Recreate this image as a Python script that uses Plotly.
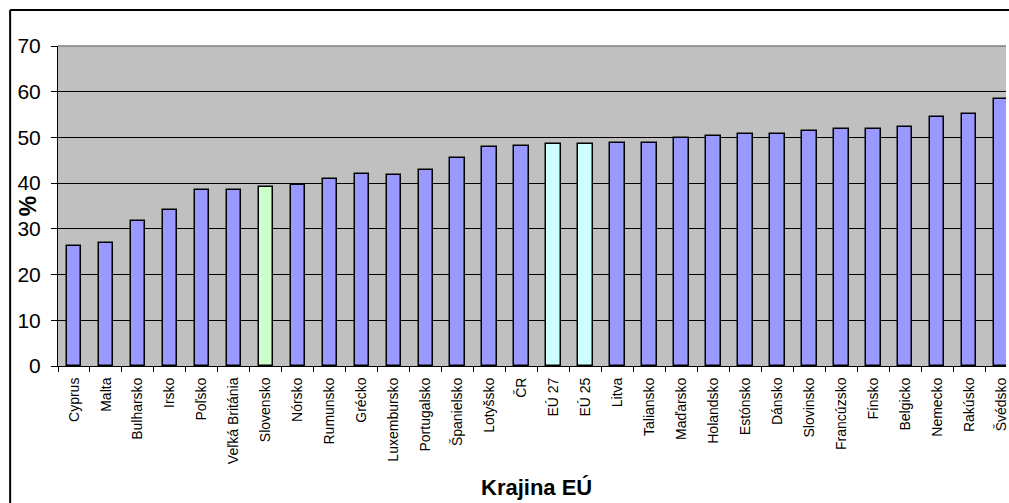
import plotly.graph_objects as go

categories = ["Cyprus", "Malta", "Bulharsko", "Irsko", "Poľsko", "Veľká Británia",
              "Slovensko", "Nórsko", "Rumunsko", "Grécko", "Luxembursko", "Portugalsko",
              "Španielsko", "Lotyšsko", "ČR", "EÚ 27", "EÚ 25", "Litva", "Taliansko",
              "Maďarsko", "Holandsko", "Estónsko", "Dánsko", "Slovinsko", "Francúzsko",
              "Fínsko", "Belgicko", "Nemecko", "Rakúsko", "Švédsko"]
values = [26.2, 27.0, 31.7, 34.1, 38.4, 38.4,
          39.2, 39.7, 41.0, 41.9, 41.8, 42.8,
          45.4, 47.8, 48.2, 48.6, 48.6, 48.8, 48.8,
          49.9, 50.3, 50.7, 50.7, 51.5, 51.8,
          51.8, 52.2, 54.4, 55.1, 58.4]
home_country = ["Slovensko"]
eu_aggregates = ["EÚ 27", "EÚ 25"]
y_ticks = [0, 10, 20, 30, 40, 50, 60, 70]

BASE = "#9999FF"
HOME = "#CCFFCC"
EU = "#CCFFFF"
colors = [HOME if c in home_country else EU if c in eu_aggregates else BASE for c in categories]

FONT = "Arial, Liberation Sans, sans-serif"

fig = go.Figure(go.Bar(
    x=categories, y=values,
    marker=dict(color=colors, line=dict(color="black", width=1.5)),
    width=0.45,
))

fig.update_layout(
    width=1009, height=503, autosize=False,
    margin=dict(l=58, r=0, t=46, b=137),
    paper_bgcolor="white", plot_bgcolor="#C0C0C0",
    font=dict(family=FONT, color="black"),
    showlegend=False,
    bargap=0,
)

fig.update_xaxes(
    type="category", range=[-0.5, 29.15],
    tickangle=-90, tickfont=dict(size=14, family=FONT, color="black"),
    ticks="outside", ticklen=5, tickcolor="black", tickson="boundaries",
    ticklabelstandoff=5,
    showline=True, linecolor="black", linewidth=1,
    showgrid=False,
)
fig.update_yaxes(
    range=[0, 70], tickvals=y_ticks,
    tickfont=dict(size=21, family=FONT, color="black"),
    ticks="outside", ticklen=6, tickcolor="black",
    ticklabelstandoff=6,
    showline=True, linecolor="black", linewidth=1,
    showgrid=True, gridcolor="black", gridwidth=1,
    zeroline=False,
)

# axis titles
fig.add_annotation(text="<b>%</b>", xref="paper", yref="paper", x=-0.0315, y=0.5,
                   textangle=-90, showarrow=False, font=dict(size=23, family=FONT, color="black"),
                   xanchor="center", yanchor="middle")
fig.add_annotation(text="<b>Krajina EÚ</b>", xref="paper", yref="paper", x=0.505, y=-0.381,
                   showarrow=False, font=dict(size=22, family=FONT, color="black"),
                   xanchor="center", yanchor="middle")

# outer chart frame (left and top edges visible)
fig.add_shape(type="line", xref="paper", yref="paper", x0=-0.0505, x1=-0.0505, y0=-0.6, y1=1.1125,
              line=dict(color="black", width=2))
fig.add_shape(type="line", xref="paper", yref="paper", x0=-0.0505, x1=1.2, y0=1.1125, y1=1.1125,
              line=dict(color="black", width=2))
# plot-area top border
fig.add_shape(type="line", xref="paper", yref="paper", x0=0, x1=1, y0=1, y1=1,
              line=dict(color="#808080", width=1.5))

fig.write_html("out.html", config={"displayModeBar": False},
               post_script="document.body.style.margin='0';document.body.style.overflow='hidden';")
